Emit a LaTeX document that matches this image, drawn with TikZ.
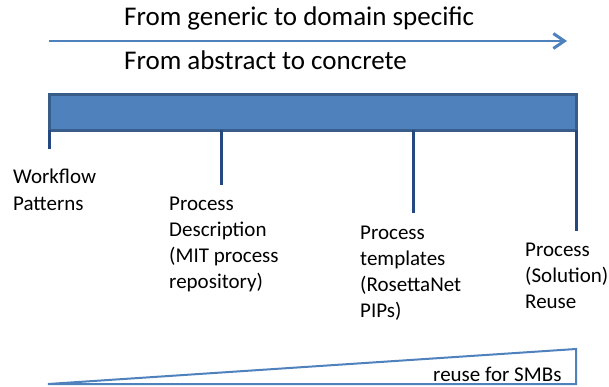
\documentclass[tikz,border=0pt]{standalone}
\usepackage{fontspec}
\setmainfont{Carlito}
\usetikzlibrary{arrows.meta}
\definecolor{lblue}{HTML}{4F81BD}
\definecolor{dblue}{HTML}{385D8A}
\definecolor{nblue}{RGB}{38,72,128}
\begin{document}
\begin{tikzpicture}[x=1pt,y=-1pt,
  titletext/.style={anchor=base west,inner sep=0pt,font=\fontsize{27}{32}\selectfont},
  lbl/.style={anchor=base west,inner sep=0pt,align=left,font=\fontsize{21}{26}\selectfont},
  tick/.style={draw=nblue,line width=3pt}]
\useasboundingbox (0,0) rectangle (609,387);
% top arrow
\coordinate (as) at (49,41);
\coordinate (ae) at (567,41);
\draw[lblue,line width=2.5pt,-{Straight Barb[length=11pt,width=15pt,line width=3pt]}] (as) -- (ae);
\node[titletext] (t1) at (124,26) {From generic to domain specific};
\node[titletext] (t2) at (124,70) {From abstract to concrete};
% bar
\node[draw=dblue,fill=lblue,line width=3pt,minimum width=527pt,minimum height=36pt,
      inner sep=0pt,outer sep=0pt,anchor=north west] (bar) at (49.5,94.5) {};
% ticks
\coordinate (e1) at (49,149);
\coordinate (e2) at (221,185);
\coordinate (e3) at (413,213);
\coordinate (e4) at (576,231);
\draw[tick] (e1 |- bar.south) -- (e1);
\draw[tick] (e2 |- bar.south) -- (e2);
\draw[tick] (e3 |- bar.south) -- (e3);
\draw[tick] (e4 |- bar.south) -- (e4);
% labels (anchor = baseline of last line)
\node[lbl] (wf) at (13,210) {Workflow\\Patterns};
\node[lbl] (pd) at (169,288) {Process\\Description\\(MIT process\\repository)};
\node[lbl] (pt) at (360,317) {Process\\templates\\(RosettaNet\\PIPs)};
\node[lbl] (ps) at (525,308) {Process\\(Solution)\\Reuse};
% wedge
\coordinate (ta) at (48,384);
\coordinate (tb) at (576,349);
\coordinate (tc) at (576,384);
\draw[lblue,line width=2pt] (ta) -- (tb) -- (tc) -- cycle;
\node[lbl] (rs) at (433,381) {reuse for SMBs};
\end{tikzpicture}
\end{document}
